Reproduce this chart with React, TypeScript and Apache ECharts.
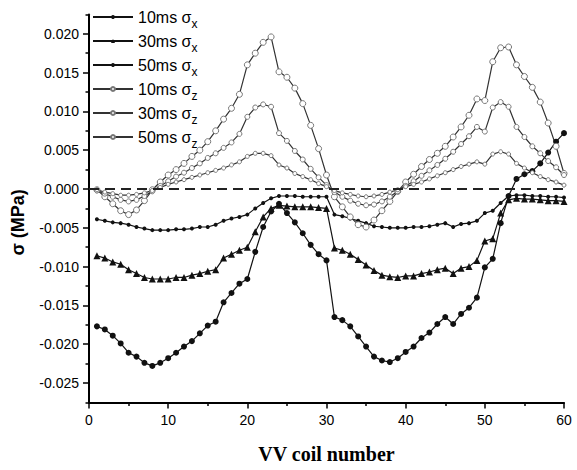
import React, { useEffect, useRef } from 'react';
import * as echarts from 'echarts';

const coils = [1,2,3,4,5,6,7,8,9,10,11,12,13,14,15,16,17,18,19,20,21,22,23,24,25,26,27,28,29,30,31,32,33,34,35,36,37,38,39,40,41,42,43,44,45,46,47,48,49,50,51,52,53,54,55,56,57,58,59,60];

const s10x = [-0.0177,-0.0181,-0.0189,-0.0199,-0.0211,-0.0216,-0.0224,-0.0228,-0.0224,-0.0218,-0.0211,-0.0203,-0.0196,-0.0186,-0.0176,-0.0171,-0.0146,-0.0134,-0.0122,-0.0116,-0.0081,-0.0049,-0.0029,-0.0019,-0.0031,-0.0043,-0.0057,-0.0072,-0.0084,-0.0092,-0.0165,-0.0169,-0.0177,-0.0190,-0.0203,-0.0216,-0.0221,-0.0223,-0.0218,-0.0210,-0.0203,-0.0192,-0.0185,-0.0174,-0.0165,-0.0174,-0.0161,-0.0153,-0.0140,-0.0101,-0.0090,-0.0044,-0.0009,0.0013,0.0019,0.0023,0.0033,0.0047,0.0061,0.0072];
const s30x = [-0.0086,-0.0089,-0.0094,-0.0097,-0.0104,-0.0109,-0.0114,-0.0116,-0.0116,-0.0116,-0.0114,-0.0114,-0.0111,-0.0109,-0.0106,-0.0104,-0.0089,-0.0084,-0.0079,-0.0075,-0.0055,-0.0036,-0.0025,-0.0021,-0.0022,-0.0023,-0.0023,-0.0023,-0.0024,-0.0025,-0.0076,-0.0079,-0.0084,-0.0091,-0.0098,-0.0105,-0.0111,-0.0113,-0.0114,-0.0112,-0.0112,-0.0109,-0.0107,-0.0104,-0.0102,-0.0109,-0.0102,-0.0100,-0.0092,-0.0067,-0.0064,-0.0031,-0.0014,-0.0012,-0.0013,-0.0013,-0.0014,-0.0015,-0.0015,-0.0016];
const s50x = [-0.0039,-0.0041,-0.0043,-0.0044,-0.0046,-0.0049,-0.0051,-0.0053,-0.0053,-0.0053,-0.0052,-0.0052,-0.0051,-0.0049,-0.0049,-0.0046,-0.0041,-0.0038,-0.0036,-0.0033,-0.0025,-0.0018,-0.0012,-0.0009,-0.0009,-0.0009,-0.0010,-0.0010,-0.0010,-0.0010,-0.0033,-0.0035,-0.0038,-0.0041,-0.0044,-0.0048,-0.0049,-0.0050,-0.0050,-0.0050,-0.0049,-0.0049,-0.0048,-0.0046,-0.0044,-0.0049,-0.0045,-0.0044,-0.0041,-0.0031,-0.0028,-0.0018,-0.0009,-0.0008,-0.0008,-0.0009,-0.0009,-0.0010,-0.0010,-0.0011];
const s10z = [-0.0001,-0.0010,-0.0019,-0.0028,-0.0033,-0.0027,-0.0015,-0.0001,0.0009,0.0018,0.0025,0.0033,0.0042,0.0050,0.0061,0.0075,0.0090,0.0104,0.0122,0.0160,0.0175,0.0189,0.0196,0.0151,0.0144,0.0130,0.0110,0.0082,0.0052,0.0018,-0.0010,-0.0023,-0.0036,-0.0046,-0.0049,-0.0040,-0.0028,-0.0016,-0.0003,0.0009,0.0019,0.0029,0.0038,0.0046,0.0055,0.0067,0.0080,0.0095,0.0116,0.0114,0.0164,0.0182,0.0183,0.0160,0.0145,0.0131,0.0112,0.0085,0.0055,0.0020];
const s30z = [-0.0002,-0.0006,-0.0010,-0.0014,-0.0016,-0.0014,-0.0009,-0.0003,0.0004,0.0010,0.0016,0.0021,0.0027,0.0033,0.0040,0.0046,0.0053,0.0060,0.0071,0.0093,0.0105,0.0109,0.0106,0.0072,0.0062,0.0049,0.0038,0.0026,0.0015,0.0005,-0.0004,-0.0010,-0.0015,-0.0019,-0.0021,-0.0020,-0.0016,-0.0010,-0.0003,0.0004,0.0010,0.0017,0.0024,0.0031,0.0039,0.0048,0.0058,0.0068,0.0080,0.0074,0.0105,0.0112,0.0106,0.0080,0.0067,0.0055,0.0046,0.0036,0.0028,0.0018];
const s50z = [-0.0001,-0.0004,-0.0006,-0.0008,-0.0008,-0.0007,-0.0005,-0.0002,0.0002,0.0006,0.0009,0.0012,0.0015,0.0018,0.0021,0.0024,0.0027,0.0031,0.0035,0.0042,0.0046,0.0046,0.0043,0.0031,0.0027,0.0020,0.0016,0.0012,0.0007,0.0003,-0.0002,-0.0005,-0.0007,-0.0009,-0.0010,-0.0009,-0.0007,-0.0004,-0.0001,0.0003,0.0006,0.0009,0.0013,0.0017,0.0021,0.0025,0.0029,0.0032,0.0035,0.0032,0.0045,0.0048,0.0045,0.0033,0.0027,0.0021,0.0016,0.0012,0.0009,0.0005];

const seriesNames = ['10ms σx', '30ms σx', '50ms σx', '10ms σz', '30ms σz', '50ms σz'];
const yMajorTicks = [-0.025, -0.02, -0.015, -0.01, -0.005, 0, 0.005, 0.01, 0.015, 0.02];
const yMinorTicks = [-0.0275, -0.0225, -0.0175, -0.0125, -0.0075, -0.0025, 0.0025, 0.0075, 0.0125, 0.0175, 0.0225];

const INK = '#000';
const SANS = 'Liberation Sans';

function mk(name: string, data: number[], symbol: string, size: number, open: boolean) {
  return {
    type: 'line',
    name,
    data: coils.map((c, i) => [c, data[i]]),
    symbol,
    symbolSize: size,
    showSymbol: true,
    lineStyle: { color: open ? '#333' : '#111', width: 1.2 },
    itemStyle: open
      ? { color: '#fff', borderColor: '#777', borderWidth: 1 }
      : { color: '#111', borderColor: '#111', borderWidth: 0 },
  };
}

export default function App() {
  const ref = useRef<HTMLDivElement>(null);
  useEffect(() => {
    if (!ref.current) return;
    const chart = echarts.init(ref.current, null, { renderer: 'svg' });
    const series: any[] = [
      mk(seriesNames[0], s10x, 'circle', 6, false),
      mk(seriesNames[1], s30x, 'triangle', 7, false),
      mk(seriesNames[2], s50x, 'circle', 4, false),
      mk(seriesNames[3], s10z, 'circle', 6, true),
      mk(seriesNames[4], s30z, 'circle', 5, true),
      mk(seriesNames[5], s50z, 'circle', 4, true),
    ];
    series[0].markLine = {
      silent: true,
      symbol: 'none',
      label: { show: false },
      lineStyle: { type: [10, 6], color: '#222', width: 2 },
      data: [{ yAxis: 0 }],
    };
    chart.setOption({
      animation: false,
      backgroundColor: '#fff',
      grid: { left: 89, right: 13, top: 14.4, bottom: 67.6, containLabel: false },
      legend: {
        orient: 'vertical',
        left: 92,
        top: 9,
        padding: 0,
        itemWidth: 40,
        itemHeight: 5,
        itemGap: 3,
        data: seriesNames,
        formatter: (n: string) => `{a|${n.slice(0, -1)}}{s|${n.slice(-1)}}{h|}`,
        textStyle: {
          color: INK,
          fontFamily: SANS,
          rich: {
            a: { fontSize: 16, fontFamily: SANS, color: INK, lineHeight: 18, verticalAlign: 'middle' },
            s: { fontSize: 12, fontFamily: SANS, color: INK, lineHeight: 12, verticalAlign: 'bottom' },
            h: { fontSize: 1, lineHeight: 26, width: 0 },
          },
        },
      },
      xAxis: {
        type: 'value',
        min: 0,
        max: 60,
        interval: 10,
        name: 'VV coil number',
        nameLocation: 'middle',
        nameGap: 42,
        nameTextStyle: { fontFamily: 'Liberation Serif', fontWeight: 'bold', fontSize: 20, color: INK },
        axisLine: { show: true, onZero: false, lineStyle: { color: INK, width: 2 } },
        axisTick: { show: true, length: 6, lineStyle: { color: INK, width: 1.5 } },
        minorTick: { show: true, splitNumber: 2, length: 3.5, lineStyle: { color: INK, width: 1.5 } },
        axisLabel: { margin: 11, fontSize: 14, fontFamily: SANS, color: INK },
        splitLine: { show: false },
      },
      yAxis: [
        {
          type: 'value',
          min: -0.0275,
          max: 0.0225,
          name: 'σ (MPa)',
          nameLocation: 'middle',
          nameRotate: 90,
          nameGap: 62,
          nameTextStyle: { fontFamily: SANS, fontWeight: 'bold', fontSize: 18, color: INK, padding: [0, 28, 0, 0] },
          axisLine: { show: true, onZero: false, lineStyle: { color: INK, width: 2 } },
          axisTick: { show: true, length: 6, customValues: yMajorTicks, lineStyle: { color: INK, width: 1.5 } },
          axisLabel: {
            margin: 10,
            fontSize: 14,
            fontFamily: SANS,
            color: INK,
            customValues: yMajorTicks,
            formatter: (v: number) => v.toFixed(3),
          },
          splitLine: { show: false },
        },
        {
          type: 'value',
          min: -0.0275,
          max: 0.0225,
          position: 'left',
          axisLine: { show: false },
          axisTick: { show: true, length: 3.5, customValues: yMinorTicks, lineStyle: { color: INK, width: 1.5 } },
          axisLabel: { show: false },
          splitLine: { show: false },
        },
      ],
      series,
    });
    return () => chart.dispose();
  }, []);
  return <div ref={ref} style={{ position: 'absolute', left: 0, top: 0, width: 577, height: 470 }} />;
}
